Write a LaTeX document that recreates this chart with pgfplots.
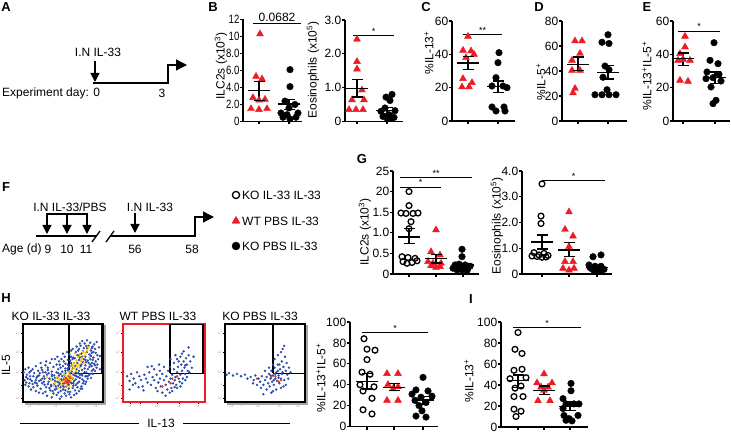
\documentclass[border=0pt]{standalone}
\usepackage{pgfplots}
\pgfplotsset{compat=1.18}
\usepackage{fontspec}
\setmainfont{Liberation Sans}
\usetikzlibrary{arrows.meta}
\definecolor{pred}{RGB}{237,28,36}
\definecolor{fblue}{RGB}{45,75,170}
\definecolor{fyel}{RGB}{252,196,0}
\definecolor{fred}{RGB}{232,48,28}
\newcommand{\fs}{\fontsize{12}{14}\selectfont}
\newcommand{\fsm}{\fontsize{9}{10}\selectfont}
\pgfplotsset{
 dp/.style={scale only axis, clip=false, anchor=south west, xmin=0, ymin=0,
  axis x line*=bottom, axis y line*=left, axis line style={line width=1.2pt,-},
  tick align=outside, major tick length=3pt, tick style={line width=1.2pt,black},
  xticklabels={}, yticklabel style={font=\fs, inner sep=0.6pt}},
 tri/.style={only marks, mark=triangle*, mark size=4pt, color=pred},
 dotb/.style={only marks, mark=*, mark size=3.3pt, color=black},
 doto/.style={only marks, mark=o, mark size=2.9pt, color=black, mark options={line width=1.3pt, fill=white}},
 sig/.style={black, line width=1pt},
 flow/.style={scale only axis, anchor=south west, clip=false, xmin=0, xmax=100, ymin=0, ymax=100,
  width=80pt, height=78pt, axis line style={line width=1.2pt},
  xtick={9,21,42,69,92}, ytick={5,22,38,64,88}, xtick pos=bottom, ytick pos=left,
  tick align=outside, major tick length=2pt, tick style={line width=0.5pt,black},
  xticklabels={-10\textsuperscript{3},0,10\textsuperscript{3},10\textsuperscript{4},10\textsuperscript{5}},
  yticklabels={-10\textsuperscript{3},0,10\textsuperscript{3},10\textsuperscript{4},10\textsuperscript{5}},
  tick label style={font=\fontsize{2.5}{3}\selectfont, gray, inner sep=0.5pt}},
 fb/.style={only marks, mark=*, mark size=1pt, color=fblue},
 fy/.style={only marks, mark=*, mark size=1pt, color=fyel},
 fr/.style={only marks, mark=*, mark size=1pt, color=fred},
}
\newcommand{\msem}[4]{%
 \addplot[only marks, mark=-, mark size=11pt, mark options={line width=1.3pt, black}] coordinates {(#1,#2)};
 \addplot[only marks, mark=-, mark size=5.5pt, mark options={line width=1.3pt, black}] coordinates {(#1,#3) (#1,#4)};
 \addplot[black, line width=1.3pt] coordinates {(#1,#3) (#1,#4)};}
\begin{document}
\begin{tikzpicture}[font=\fs]
\begin{scope}[x=1pt,y=-1pt]
\path[use as bounding box] (0,0) rectangle (731,431);
% panel letters
\begin{scope}[font=\fontsize{13}{15}\selectfont\bfseries]
\node at (6,7) {A}; \node at (213,7) {B}; \node at (426,7) {C}; \node at (539,7) {D}; \node at (647,7) {E};
\node at (6,187) {F}; \node at (362,159) {G}; \node at (6,298) {H}; \node at (471,299) {I};
\end{scope}
% panel A
\node at (98,52) {I.N IL-33};
\draw[line width=1.3pt,-{Triangle[length=9pt,width=9pt]}] (95,61) -- (95,82);
\draw[line width=1.3pt,-{Triangle[length=11pt,width=11pt]}] (93,83) -- (168,83) -- (168,65) -- (187,65);
\node[anchor=west, inner sep=0] at (2,93) {Experiment day: 0};
\node at (162,93) {3};
% panel F
\node at (70,207) {I.N IL-33/PBS};
\draw[line width=1.3pt] (47,214) -- (87,214);
\foreach \xx in {47,67,87}{\draw[line width=1.3pt,-{Triangle[length=9pt,width=9pt]}] (\xx,213.4) -- (\xx,234);}
\draw[line width=1.3pt] (36,236) -- (97,236);
\draw[line width=1.3pt] (92,242) -- (100,231);
\draw[line width=1.3pt] (106,242) -- (114,231);
\draw[line width=1.3pt,-{Triangle[length=11pt,width=11pt]}] (110,236) -- (195,236) -- (195,217) -- (214,217);
\node at (150,207) {I.N IL-33};
\draw[line width=1.3pt,-{Triangle[length=9pt,width=9pt]}] (135,213) -- (135,233);
\node[anchor=west, inner sep=0] at (2,249) {Age (d)};
\node at (48,249) {9}; \node at (67,249) {10}; \node at (86,249) {11};
\node at (135,249) {56}; \node at (192,249) {58};
% y labels
\node[rotate=90] at (221,66) {ILC2s (x10\textsuperscript{3})};
\node[rotate=90] at (313,70) {Eosinophils (x10\textsuperscript{5})};
\node[rotate=90] at (429,53) {\%IL-13\textsuperscript{+}};
\node[rotate=90] at (541,82) {\%IL-5\textsuperscript{+}};
\node[rotate=90] at (647,76) {\%IL-13\textsuperscript{+}IL-5\textsuperscript{+}};
\node[rotate=90] at (365,232) {ILC2s (x10\textsuperscript{3})};
\node[rotate=90] at (497,226) {Eosinophils (x10\textsuperscript{5})};
\node[rotate=90] at (321,378) {\%IL-13\textsuperscript{+}IL-5\textsuperscript{+}};
\node[rotate=90] at (469,381) {\%IL-13\textsuperscript{+}};
% flow labels
\node at (51,316) {KO IL-33 IL-33};
\node at (158,316) {WT PBS IL-33};
\node at (260,316) {KO PBS IL-33};
\node[rotate=90] at (6,365) {IL-5};
\node at (161,423) {IL-13};
\draw[line width=1pt] (20,423) -- (139,423);
\draw[line width=1pt] (183,423) -- (290,423);
\end{scope}

% ---- legend
\begin{axis}[at={(226pt,-258pt)}, anchor=south west, scale only axis, width=20pt, height=76pt,
 xmin=0, xmax=20, ymin=0, ymax=76, hide axis, clip=false]
\addplot[doto, mark size=3.6pt] coordinates {(10,63)};
\addplot[tri, mark size=4.6pt] coordinates {(10,37)};
\addplot[dotb, mark size=4pt] coordinates {(10,12)};
\node[anchor=west, inner sep=0] at (axis cs:16,63) {KO IL-33 IL-33};
\node[anchor=west, inner sep=0] at (axis cs:16,37) {WT PBS IL-33};
\node[anchor=west, inner sep=0] at (axis cs:16,12) {KO PBS IL-33};
\end{axis}

% ---- B1
\begin{axis}[dp, at={(243pt,-121.5pt)}, width=59pt, height=102pt, xmax=59, ymax=12,
 xtick={16,46}, ytick={0,2,4,6,8,10,12}, yticklabels={0,2.0,4.0,6.0,8.0,10,12},
 yticklabel style={xscale=0.8}]
\addplot[tri] coordinates {(17,10.3) (13,5.3) (19,5.0) (10,2.8) (22,2.6) (16,2.5) (8,1.5) (16,1.4) (24,1.5)};
\addplot[dotb] coordinates {(47,6.1) (47,4.1) (42,2.4) (52,2.0) (38,1.0) (55,1.0) (46,1.6) (40,0.5) (53,0.5) (47,0.3) (44,0.8)};
\msem{16}{3.64}{2.5}{4.7}
\msem{46}{2.07}{1.4}{2.6}
\addplot[sig] coordinates {(10,11.5) (58,11.5)};
\node[anchor=south, inner sep=1.5pt] at (axis cs:34,11.5) {0.0682};
\end{axis}

% ---- B2
\begin{axis}[dp, at={(345pt,-121.5pt)}, width=58pt, height=101.5pt, xmax=58, ymax=3,
 xtick={12,42}, ytick={0,1,2,3}, yticklabels={0,1.0,2.0,3.0}]
\addplot[tri] coordinates {(12,2.43) (12,1.77) (12,1.55) (17,0.93) (7,0.64) (4,0.35) (11,0.35) (18,0.35) (19,0.64)};
\addplot[dotb] coordinates {(47,0.8) (41,0.72) (45,0.62) (40,0.4) (50,0.32) (36,0.3) (44,0.2) (38,0.15) (49,0.12) (42,0.1) (46,0.1)};
\msem{12}{0.98}{0.72}{1.25}
\msem{42}{0.33}{0.24}{0.42}
\addplot[sig] coordinates {(8,2.54) (49,2.54)};
\node[anchor=south, inner sep=1pt, font=\fsm] at (axis cs:28.5,2.54) {*};
\end{axis}

% ---- C
\begin{axis}[dp, at={(452pt,-121pt)}, width=63pt, height=100pt, xmax=63, ymax=60,
 xtick={16,46}, ytick={0,20,40,60}, yticklabels={0,20,40,60}]
\addplot[tri] coordinates {(16,50.8) (11,42.4) (19,42) (22,40) (14,38) (11,25.4) (20,23) (10,20.4) (17,20.4)};
\addplot[dotb] coordinates {(47,41) (46,35) (44,26) (40,21) (51,21) (55,20) (40,8.4) (44,6) (53,6) (52,8.4)};
\msem{16}{34.8}{30.8}{38.8}
\msem{46}{20.6}{17}{24}
\addplot[sig] coordinates {(11,52) (50,52)};
\node[anchor=south, inner sep=1pt, font=\fsm] at (axis cs:30.5,52) {**};
\end{axis}

% ---- D
\begin{axis}[dp, at={(562pt,-121pt)}, width=65pt, height=100pt, xmax=65, ymax=80,
 xtick={16,46}, ytick={0,20,40,60,80}, yticklabels={0,20,40,60,80}]
\addplot[tri] coordinates {(13,64) (20,64) (18,54) (10,48.5) (18,40.5) (10,40.5) (13,26) (11,22.4)};
\addplot[dotb] coordinates {(46,69) (40,63) (47,62) (43,44) (47,41) (41,35) (45,25) (33,21) (40,21) (47,21) (54,21)};
\msem{16}{45.3}{40.5}{51.2}
\msem{46}{39}{33.6}{44.3}
\end{axis}

% ---- E
\begin{axis}[dp, at={(673pt,-121pt)}, width=57pt, height=100pt, xmax=57, ymax=60,
 xtick={10,42}, ytick={0,20,40,60}, yticklabels={0,20,40,60}]
\addplot[tri] coordinates {(12,50.8) (12,44.4) (7,40.4) (5,36.4) (17,36.4) (10,37) (7,24.4) (15,23.8)};
\addplot[dotb] coordinates {(41,47) (37,36.4) (45,34.4) (34,29.4) (46,28) (40,26) (33,25.4) (48,24) (38,20.4) (43,12.4) (40,10.4)};
\msem{10}{37.4}{33.4}{40.8}
\msem{42}{26}{22.4}{29.4}
\addplot[sig] coordinates {(5,54) (47,54)};
\node[anchor=south, inner sep=1pt, font=\fsm] at (axis cs:26,54) {*};
\end{axis}

% ---- G1
\begin{axis}[dp, at={(393pt,-274pt)}, width=86pt, height=103pt, xmax=86, ymax=2.5,
 xtick={16,43,70}, ytick={0,0.5,1,1.5,2,2.5}, yticklabels={0,0.5,1.0,1.5,20,25}]
\addplot[doto] coordinates {(16,2.0) (16,1.66) (8,1.48) (13,1.47) (20,1.47) (25,1.48) (18,1.27) (16,1.1) (9,0.42) (15,0.4) (22,0.38) (10,0.3) (14,0.26) (19,0.28) (24,0.32)};
\addplot[tri] coordinates {(43,1.07) (38,0.54) (47,0.46) (35,0.3) (40,0.26) (48,0.26) (43,0.16) (38,0.2) (47,0.18)};
\addplot[dotb] coordinates {(69,0.6) (69,0.42) (62,0.22) (66,0.24) (72,0.22) (77,0.19) (64,0.1) (69,0.1) (74,0.08) (67,0.16) (60,0.14) (75,0.14)};
\msem{16}{0.9}{0.74}{1.1}
\msem{43}{0.37}{0.27}{0.48}
\msem{70}{0.22}{0.18}{0.26}
\addplot[sig] coordinates {(7,2.34) (79,2.34)};
\node[anchor=south, inner sep=1pt, font=\fsm] at (axis cs:43,2.34) {**};
\addplot[sig] coordinates {(7,2.11) (48,2.11)};
\node[anchor=south, inner sep=1pt, font=\fsm] at (axis cs:27.5,2.11) {*};
\end{axis}

% ---- G2
\begin{axis}[dp, at={(522pt,-274pt)}, width=90pt, height=103pt, xmax=90, ymax=4,
 xtick={20,47,75}, ytick={0,1,2,3,4}, yticklabels={0,1.0,2.0,3.0,4.0}]
\addplot[doto] coordinates {(20,3.5) (19,2.25) (19,1.96) (12,0.83) (17,0.74) (22,0.8) (26,0.72) (10,0.7) (15,0.68) (20,0.65) (24,0.66)};
\addplot[tri] coordinates {(47,2.41) (43,1.73) (51,1.47) (47,1.06) (43,0.48) (51,0.48) (41,0.22) (47,0.15) (52,0.22)};
\addplot[dotb] coordinates {(71,0.67) (79,0.74) (67,0.35) (73,0.3) (79,0.3) (70,0.2) (76,0.22) (82,0.18) (72,0.12) (78,0.1) (74,0.15) (68,0.25)};
\msem{20}{1.24}{0.97}{1.52}
\msem{47}{0.93}{0.67}{1.21}
\msem{75}{0.26}{0.2}{0.33}
\addplot[sig] coordinates {(20,3.64) (83,3.64)};
\node[anchor=south, inner sep=1pt, font=\fsm] at (axis cs:51.5,3.64) {*};
\end{axis}

% ---- H scatter
\begin{axis}[dp, at={(350pt,-426.5pt)}, width=88pt, height=104.5pt, xmax=88, ymax=100,
 xtick={17,44,73}, ytick={0,20,40,60,80,100}, yticklabels={0,20,40,60,80,100}]
\addplot[doto] coordinates {(14,84) (17,74) (25,73) (17,64) (12,52) (20,50) (10,40) (24,38) (13,34) (22,27) (13,16) (22,12)};
\addplot[tri] coordinates {(37,50.6) (48,50.6) (38,40) (48,38) (43,36) (37,25) (48,25)};
\addplot[dotb] coordinates {(73,47) (66,35) (78,34) (62,31) (71,28) (82,29) (65,25) (76,23) (69,20) (72,15) (66,10) (76,9)};
\msem{17}{43}{36}{51}
\msem{44}{37}{34.5}{41}
\msem{73}{25.5}{21}{28.7}
\addplot[sig] coordinates {(12,90) (78,90)};
\node[anchor=south, inner sep=1pt, font=\fsm] at (axis cs:45,90) {*};
\end{axis}

% ---- I scatter
\begin{axis}[dp, at={(501pt,-427pt)}, width=87pt, height=105pt, xmax=87, ymax=100,
 xtick={17,43,69}, ytick={0,20,40,60,80,100}, yticklabels={0,20,40,60,80,100}]
\addplot[doto] coordinates {(17,90) (14,74) (21,70) (13,54) (21,55) (9,46) (25,47) (20,39) (14,37) (13,29) (22,29) (13,17) (20,15) (15,10)};
\addplot[tri] coordinates {(43,50.5) (36,42) (51,42) (40,38) (47,38) (43,35) (37,25) (49,25)};
\addplot[dotb] coordinates {(70,41.5) (70,34.5) (62,27) (65,22) (73,22) (78,22) (62,17.6) (63,11) (77,11) (65,6.4) (71,5.8) (68,8)};
\msem{17}{44}{37.7}{49.5}
\msem{43}{35}{31}{39}
\msem{69}{19.8}{16}{24}
\addplot[sig] coordinates {(12,94.6) (80,94.6)};
\node[anchor=south, inner sep=1pt, font=\fsm] at (axis cs:46,94.6) {*};
\end{axis}

% ---- flow 1
\begin{axis}[flow, at={(23pt,-402pt)}]
\draw[gray!70, line width=2pt] ([xshift=2.2pt,yshift=-2.2pt]rel axis cs:0,0) -- ([xshift=2.2pt,yshift=-2.2pt]rel axis cs:1,0) -- ([xshift=2.2pt,yshift=-1pt]rel axis cs:1,1);
\addplot[fb] coordinates {(30,8) (36,6) (42,9) (48,7) (54,8) (60,6) (46,4) (38,11) (52,11) (58,10) (64,9) (44,12)
(10,16) (16,14) (22,17) (28,13) (34,15) (40,16) (47,14) (53,15) (59,13) (65,15) (70,14) (25,11) (62,18) (74,17)
(3,22) (7,20) (12,23) (18,21) (24,24) (29,19) (35,22) (41,20) (46,23) (51,19) (57,22) (63,21) (68,24) (73,20) (78,23) (15,25)
(2,28) (6,30) (11,27) (17,31) (22,28) (27,30) (32,26) (37,29) (43,31) (49,27) (55,30) (60,26) (66,29) (71,31) (76,27) (81,30)
(5,35) (9,33) (14,37) (20,34) (25,38) (30,35) (36,33) (42,38) (47,36) (52,34) (58,38) (63,35) (69,37) (74,34) (79,38) (84,36) (19,40)
(12,42) (23,44) (31,41) (38,45) (44,42) (50,46) (56,43) (61,47) (67,42) (72,46) (77,43) (83,45) (88,42) (28,47)
(34,50) (45,52) (53,49) (59,53) (64,50) (70,54) (75,51) (81,53) (86,50) (91,52) (40,55) (48,55)
(52,58) (58,61) (63,57) (68,60) (73,62) (78,58) (83,61) (88,57) (66,64) (93,60)
(60,66) (70,68) (75,65) (80,69) (85,66) (90,68) (72,72) (82,72) (87,71)
(77,75) (84,76) (89,74) (80,79) (92,77)
(45,25) (50,24) (55,26) (58,28) (62,30) (52,31) (48,29) (57,33) (61,24) (54,20) (49,33) (64,27) (67,33) (59,36) (53,37) (45,34) (66,38) (70,40) (56,41) (62,43) (65,46) (68,50) (73,48) (78,47) (76,55) (71,57) (84,55) (80,64) (86,63)
(4,25) (9,29) (13,33) (8,38) (16,28) (21,37) (26,33) (33,30) (39,34) (27,22) (33,18) (20,12) (40,27) (44,21) (36,39) (31,44) (42,48) (24,41) (37,14) (57,17) (68,19) (75,24) (80,33) (86,40) (90,47) (94,55) (88,64) (95,70) (71,35) (74,41) (79,51) (85,59) (62,55) (56,48) (47,44) (53,43) (58,45) (69,66) (76,69) (74,78)
(35,20) (39,23) (43,26) (47,19) (50,21) (56,23) (59,25) (63,24) (66,22) (70,26) (74,29) (78,33) (82,34) (87,36) (90,40) (92,44) (89,49) (87,54) (84,48) (81,42) (77,38) (73,36) (69,32) (65,34) (61,39) (57,40) (53,40) (49,39) (44,37) (40,31) (36,35) (32,37) (28,38) (24,30) (20,27) (17,24) (13,19) (8,24) (4,32) (1,38) (7,44) (16,46) (22,50) (29,52) (36,55) (43,58) (50,62) (55,64) (62,68) (67,71) (71,75) (79,72) (86,69) (91,63) (96,59) (93,48) (96,42) (85,31) (79,26) (72,17) (67,11) (56,13) (50,16) (42,17) (31,23) (26,26) (18,33) (10,40) (3,42) (46,48) (51,52) (56,54) (60,58) (65,56) (70,60) (74,58) (78,54) (82,50) (86,46) (60,50)};
\addplot[fy] coordinates {(50,26) (54,24) (57,29) (52,30) (60,27) (48,22) (55,33) (62,31) (58,35) (63,37) (66,40) (61,42) (68,45) (70,48) (64,50) (72,52) (74,56) (69,58) (77,60) (75,64) (80,66) (65,62) (45,30) (40,24) (35,28) (58,20) (44,18) (30,32) (83,57) (71,44) (67,53) (76,50)
(53,34) (49,26) (56,31) (60,33) (59,40) (64,44) (67,48) (73,54) (78,63) (82,70) (71,61) (62,47) (57,38) (46,27) (42,31) (38,21) (51,36) (55,21)};
\addplot[fr] coordinates {(53,27) (56,28) (55,25) (52,24) (57,26) (54,30) (59,31) (51,29)};
\addplot[black, line width=1.2pt] coordinates {(57.5,37) (98.5,37) (98.5,99) (57.5,99) (57.5,37)};
\end{axis}

% ---- flow 2
\begin{axis}[flow, at={(123pt,-402pt)}, width=82pt, axis line style={line width=1.4pt, pred}]
\addplot[fb] coordinates {(5,33) (8,27) (10,36) (13,30) (15,24) (17,38) (20,33) (22,28) (24,20) (26,35) (28,30) (30,25) (32,38) (34,22) (36,32) (38,28) (40,18) (41,35) (43,25) (45,30) (46,20) (48,36) (50,28) (52,22) (53,33) (55,40) (56,26) (58,30) (59,18) (60,35) (61,24) (62,42) (63,28) (64,32) (65,22) (66,38) (67,45) (68,30) (69,26) (70,35) (71,48) (72,40) (73,30) (74,52) (75,44) (76,36) (77,56) (78,48) (79,40) (80,60) (82,52) (84,44) (62,50) (66,55) (70,58) (74,65) (72,62) (68,52) (76,47) (57,45) (54,16) (48,12) (42,14) (60,14) (66,18) (70,20) (25,15) (19,19) (12,22) (86,58) (80,70) (64,60) (58,55) (50,45) (45,40) (38,42) (30,45) (72,24) (76,28) (78,32) (81,38) (63,19) (57,12) (52,8) (8,16) (35,46) (44,48)};
\addplot[fr] coordinates {(48,20) (58,24) (60,30) (66,33)};
\addplot[black, line width=1.2pt] coordinates {(57.3,37) (97.6,37) (97.6,99) (57.3,99) (57.3,37)};
\end{axis}

% ---- flow 3
\begin{axis}[flow, at={(225pt,-402pt)}]
\draw[gray!70, line width=2pt] ([xshift=2.2pt,yshift=-2.2pt]rel axis cs:0,0) -- ([xshift=2.2pt,yshift=-2.2pt]rel axis cs:1,0) -- ([xshift=2.2pt,yshift=-1pt]rel axis cs:1,1);
\addplot[fb] coordinates {(2,35) (5,37) (10,34) (15,36) (20,33) (25,35) (28,30) (32,32) (36,28) (38,34) (42,30) (44,26) (46,33) (48,22) (50,28) (52,32) (54,24) (55,36) (56,20) (57,30) (58,40) (59,26) (60,34) (61,22) (62,44) (63,30) (64,38) (65,27) (66,48) (67,34) (68,24) (69,42) (70,30) (71,52) (72,38) (73,45) (74,28) (75,58) (76,40) (77,50) (78,35) (62,55) (66,60) (70,64) (72,68) (74,72) (68,48) (64,16) (60,14) (70,18) (58,12) (52,16) (48,10) (45,18) (40,22) (35,24) (80,44) (82,38) (79,30) (76,22) (73,20) (66,40) (60,48) (55,44) (50,40) (63,36) (67,31) (61,28) (57,34) (71,36)};
\addplot[fr] coordinates {(40,30) (58,32) (63,33) (67,26) (70,28)};
\addplot[black, line width=1.2pt] coordinates {(60,37) (100,37) (100,99) (60,99) (60,37)};
\end{axis}
\end{tikzpicture}
\end{document}
